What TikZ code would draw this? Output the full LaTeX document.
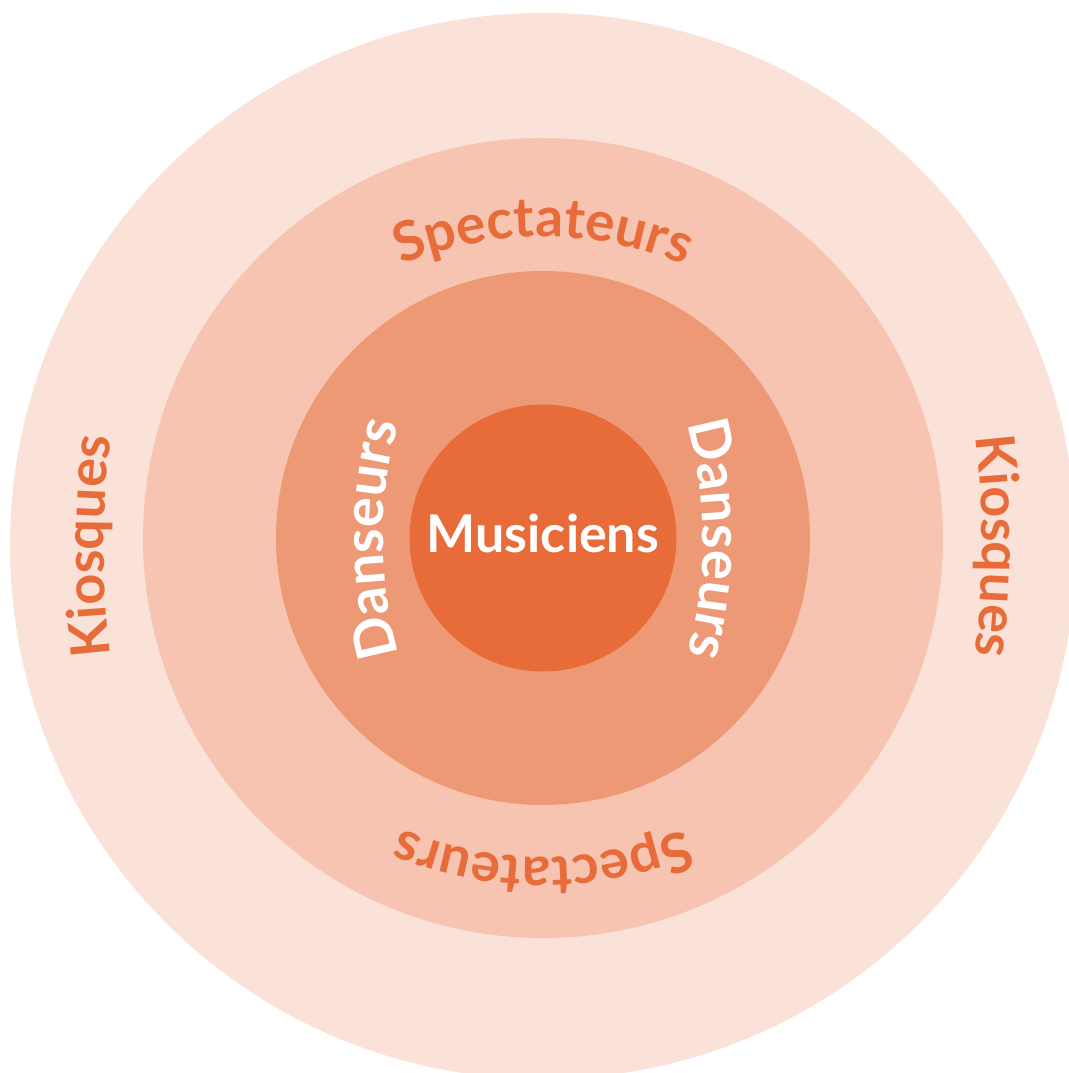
\documentclass[tikz,border=0pt]{standalone}
\usepackage{fontspec}
\setmainfont{Lato}
\usetikzlibrary{decorations.text}
\definecolor{kioskfill}{HTML}{FAE2D8}
\definecolor{spectfill}{HTML}{F6C4B1}
\definecolor{dansefill}{HTML}{EE9976}
\definecolor{musifill}{HTML}{E86C3A}
\definecolor{ringtext}{HTML}{E86C3A}

\begin{document}
\begin{tikzpicture}[x=1pt,y=1pt,
		ring/.style={circle,inner sep=0pt,minimum size=#1},
		ringlabel/.style={decorate,decoration={text along path,text align=center,text color=#1}}]
	\useasboundingbox (-543,-535) rectangle (525,538);
	\node[ring=1066pt,fill=kioskfill] (kiosques) at (0,-8) {};
	\node[ring=800pt,fill=spectfill] (spectateurs) at (0,0) {};
	\node[ring=534pt,fill=dansefill] (danseurs) at (0,0) {};
	\node[ring=267pt,fill=musifill,text=white,text depth=9pt,font=\fontsize{52}{60}\selectfont\bfseries] (musiciens) at (0,0) {Musiciens};
	\path[ringlabel=ringtext,decoration={text={|\fontsize{54}{60}\selectfont\bfseries|Kiosques}},shift={(461,-8)}]
		(190:900) arc[start angle=190,end angle=170,radius=900];
	\path[ringlabel=ringtext,decoration={text={|\fontsize{54}{60}\selectfont\bfseries|Kiosques}},shift={(-461,-8)}]
		(10:900) arc[start angle=10,end angle=-10,radius=900];
	\path[ringlabel=ringtext,decoration={text={|\fontsize{55}{60}\selectfont\bfseries|Spectateurs}},shift={(0,-69)}]
		(125:370) arc[start angle=125,end angle=55,radius=370];
	\path[ringlabel=ringtext,decoration={text={|\fontsize{55}{60}\selectfont\bfseries|Spectateurs}},shift={(0,51)}]
		(-55:370) arc[start angle=-55,end angle=-125,radius=370];
	\path[ringlabel=white,decoration={text={|\fontsize{56}{60}\selectfont\bfseries|Danseurs}},shift={(260,-1)}]
		(215:420) arc[start angle=215,end angle=145,radius=420];
	\path[ringlabel=white,decoration={text={|\fontsize{56}{60}\selectfont\bfseries|Danseurs}},shift={(-260,-1)}]
		(35:420) arc[start angle=35,end angle=-35,radius=420];
\end{tikzpicture}
\end{document}
